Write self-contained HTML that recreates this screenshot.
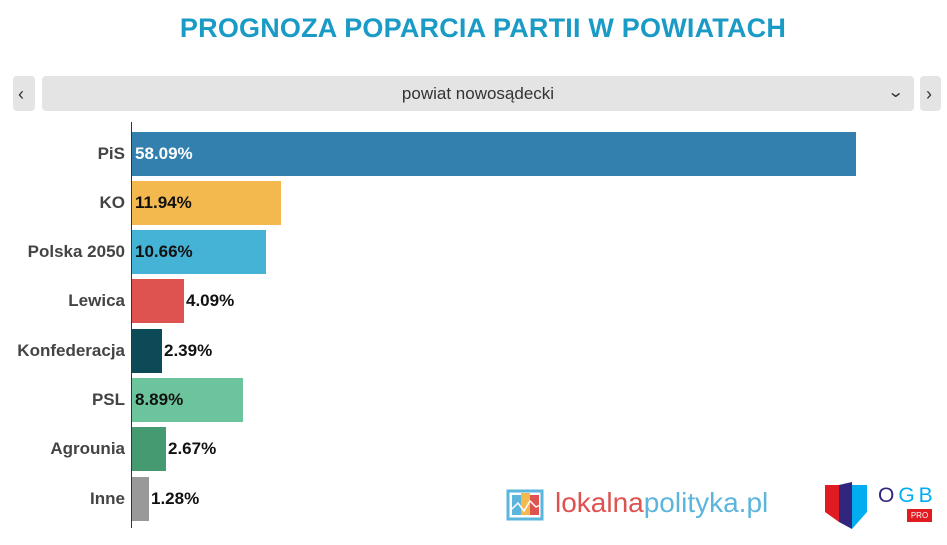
<!DOCTYPE html>
<html><head><meta charset="utf-8"><style>
body{margin:0;width:947px;height:545px;background:#fff;font-family:"Liberation Sans",sans-serif;position:relative;overflow:hidden}
.a{position:absolute}
.t{left:0;width:966px;top:13px;text-align:center;color:#1a9bc6;font-weight:bold;font-size:27px;letter-spacing:0.2px}
.btn{background:#e4e4e4;border-radius:4px}
.lab{right:822px;text-align:right;font-size:17px;color:#444;font-weight:bold;line-height:44px}
.bar{left:132px;height:44px}
.v{font-size:17px;font-weight:bold;line-height:44px}
</style></head><body>
<div class="a t">PROGNOZA POPARCIA PARTII W POWIATACH</div>
<div class="a btn" style="left:13px;top:76px;width:22px;height:35px"></div>
<div class="a" style="left:18px;top:84px;font-size:18px;color:#333">&#8249;</div>
<div class="a btn" style="left:42px;top:76px;width:872px;height:35px"></div>
<div class="a" style="left:42px;top:84px;width:872px;text-align:center;font-size:17px;color:#333">powiat nowosądecki</div>
<div class="a" style="left:889px;top:82px;font-size:16px;color:#333;transform:scaleX(1.3)">&#8964;</div>
<div class="a btn" style="left:920px;top:76px;width:21px;height:35px"></div>
<div class="a" style="left:926px;top:84px;font-size:18px;color:#333">&#8250;</div>
<div class="a" style="left:131px;top:122px;width:1px;height:406px;background:#333"></div>

<div class="a lab" style="top:132px">PiS</div>
<div class="a bar" style="top:132px;width:724px;background:#3380ae"></div>
<div class="a v" style="left:135px;top:132px;color:#fff">58.09%</div>

<div class="a lab" style="top:181px">KO</div>
<div class="a bar" style="top:181px;width:149px;background:#f3b94e"></div>
<div class="a v" style="left:135px;top:181px;color:#111">11.94%</div>

<div class="a lab" style="top:230px">Polska 2050</div>
<div class="a bar" style="top:230px;width:134px;background:#45b3d6"></div>
<div class="a v" style="left:135px;top:230px;color:#111">10.66%</div>

<div class="a lab" style="top:279px">Lewica</div>
<div class="a bar" style="top:279px;width:52px;background:#de5250"></div>
<div class="a v" style="left:186px;top:279px;color:#111">4.09%</div>

<div class="a lab" style="top:329px">Konfederacja</div>
<div class="a bar" style="top:329px;width:30px;background:#0d4a58"></div>
<div class="a v" style="left:164px;top:329px;color:#111">2.39%</div>

<div class="a lab" style="top:378px">PSL</div>
<div class="a bar" style="top:378px;width:111px;background:#6cc49c"></div>
<div class="a v" style="left:135px;top:378px;color:#111">8.89%</div>

<div class="a lab" style="top:427px">Agrounia</div>
<div class="a bar" style="top:427px;width:34px;background:#469a72"></div>
<div class="a v" style="left:168px;top:427px;color:#111">2.67%</div>

<div class="a lab" style="top:477px">Inne</div>
<div class="a bar" style="top:477px;width:17px;background:#999"></div>
<div class="a v" style="left:151px;top:477px;color:#111">1.28%</div>

<svg class="a" style="left:506px;top:485px" width="40" height="40">
<rect x="2" y="6" width="34" height="28" fill="none" stroke="#5cb5dc" stroke-width="3"/>
<rect x="6" y="10" width="9" height="20" fill="#5cb5dc"/><rect x="15" y="8" width="9" height="22" fill="#f3b94e"/><rect x="24" y="10" width="9" height="20" fill="#de5250"/>
<polyline points="6,24 12,18 18,26 24,16 30,22 34,20" fill="none" stroke="#fff" stroke-width="1.5"/>
</svg>
<div class="a" style="left:555px;top:487px;font-size:28px;color:#de5250">lokalna<span style="color:#5cb5dc">polityka.pl</span></div>
<svg class="a" style="left:825px;top:482px" width="45" height="48">
<polygon points="0,3 14,3 14,40 0,30" fill="#e01b22"/>
<polygon points="14,3 27,0 27,47 14,40" fill="#31267e"/>
<polygon points="27,3 42,3 42,30 27,47" fill="#00aeef"/>
</svg>
<div class="a" style="left:878px;top:484px;font-size:21px;letter-spacing:4px;color:#31267e">O<span style="color:#00aeef">GB</span></div>
<div class="a" style="left:907px;top:509px;width:25px;height:13px;background:#e01b22;color:#fff;font-size:8px;text-align:center;line-height:13px">PRO</div>
</body></html>
